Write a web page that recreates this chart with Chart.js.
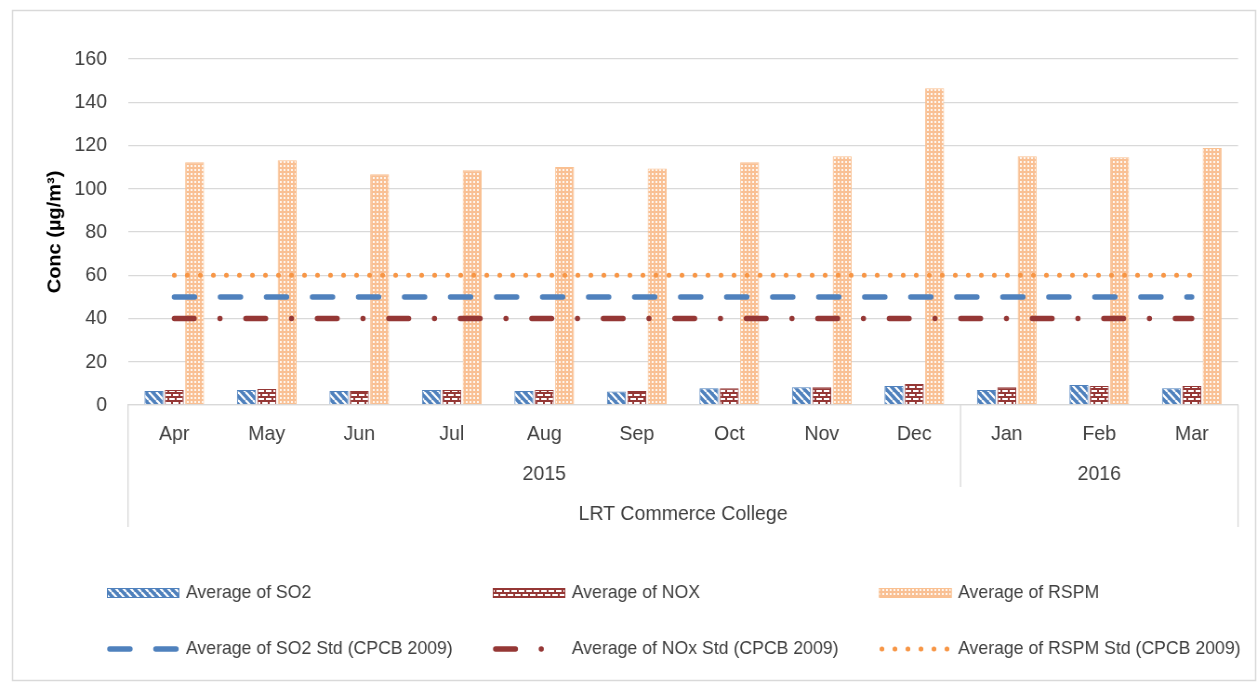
<!DOCTYPE html>
<html><head><meta charset="utf-8">
<script src="https://cdn.jsdelivr.net/npm/chart.js@4.4.1/dist/chart.umd.min.js"></script>
<style>
html,body{margin:0;padding:0;overflow:hidden;background:#fff;width:1257px;height:683px}
#wrap{position:absolute;left:0;top:0;width:1352px;height:683px;transform:scaleX(0.92973);transform-origin:0 0}
canvas{display:block}
</style></head><body>
<div id="wrap"><canvas id="c" width="1352" height="683"></canvas></div>
<script>
// ---------- data ----------
const months = ['Apr','May','Jun','Jul','Aug','Sep','Oct','Nov','Dec','Jan','Feb','Mar'];
const monthYear = ['2015','2015','2015','2015','2015','2015','2015','2015','2015','2016','2016','2016'];
const siteName = 'LRT Commerce College';
const so2  = [6.5, 6.9, 6.5, 6.9, 6.5, 6.3, 7.7, 8.2, 8.8, 6.9, 9.2, 7.7];
const nox  = [6.9, 7.4, 6.5, 6.9, 6.9, 6.5, 7.7, 8.2, 9.7, 8.2, 8.8, 8.8];
const rspm = [112.3, 113.2, 106.7, 108.6, 110.1, 109.4, 112.3, 115.0, 146.5, 115.0, 114.6, 118.8];
const so2Std  = [50, 50, 50, 50, 50, 50, 50, 50, 50, 50, 50, 50];
const noxStd  = [40, 40, 40, 40, 40, 40, 40, 40, 40, 40, 40, 40];
const rspmStd = [60, 60, 60, 60, 60, 60, 60, 60, 60, 60, 60, 60];
const yMin = 0, yMax = 160, yStep = 20;
const yTitle = 'Conc (µg/m³)';
const seriesNames = ['Average of SO2','Average of NOX','Average of RSPM',
  'Average of SO2 Std (CPCB 2009)','Average of NOx Std (CPCB 2009)','Average of RSPM Std (CPCB 2009)'];

// ---------- patterns ----------
function tile(w, h, draw){ const c=document.createElement('canvas'); c.width=w; c.height=h; const g=c.getContext('2d'); draw(g); return document.createElement('canvas').getContext('2d').createPattern(c,'repeat'); }
const BLUE='#4F81BD', RED='#953735', ORANGE='#F79646', PEACH='#FAC090';
const so2Pat = tile(8,8,g=>{ g.fillStyle=BLUE; g.fillRect(0,0,8,8); g.strokeStyle='#fff'; g.lineWidth=2.2;
  for (const x of [-8,0,8]) { g.beginPath(); g.moveTo(x,0); g.lineTo(x+8,8); g.stroke(); } });
const noxPat = tile(8,8,g=>{ g.fillStyle='#fff'; g.fillRect(0,0,8,8); g.fillStyle=RED;
  g.fillRect(0,0,8,2); g.fillRect(0,4,8,2); g.fillRect(0,2,2,2); g.fillRect(4,6,2,2); });
const rspmPat = tile(4,4,g=>{ g.fillStyle='#F9C094'; g.fillRect(0,0,4,4); g.fillStyle='rgba(255,255,255,0.85)'; g.fillRect(1,1,2,2); });

const FONT = '"Liberation Sans", Arial, sans-serif';
const TXT = '#404040';

const multiLevel = {
  id: 'multiLevel',
  beforeDraw(chart){
    const ctx = chart.ctx; ctx.save();
    ctx.fillStyle='#fff'; ctx.fillRect(0,0,chart.width,chart.height);
    ctx.strokeStyle='#d9d9d9'; ctx.lineWidth=1.5;
    ctx.strokeRect(13.5, 10.5, chart.width-15, chart.height-13);
    ctx.restore();
  },
  afterDraw(chart){
    const ctx = chart.ctx, xs = chart.scales.x, y0 = xs.top;
    const n = months.length, w = xs.width / n;
    const groups = [];
    monthYear.forEach((y,i)=>{ const g = groups[groups.length-1];
      if (g && g.label===y) g.end=i; else groups.push({label:y,start:i,end:i}); });
    ctx.save();
    ctx.strokeStyle='#d9d9d9'; ctx.lineWidth=1.3;
    ctx.beginPath();
    ctx.moveTo(xs.left, y0); ctx.lineTo(xs.left, y0+122);
    ctx.moveTo(xs.right, y0); ctx.lineTo(xs.right, y0+122);
    groups.slice(1).forEach(g=>{ const x = xs.getPixelForValue(g.start) - w/2; ctx.moveTo(x,y0); ctx.lineTo(x,y0+82); });
    ctx.stroke();
    ctx.fillStyle=TXT; ctx.font='21px '+FONT; ctx.textAlign='center'; ctx.textBaseline='alphabetic';
    groups.forEach(g=>{ const x=(xs.getPixelForValue(g.start)+xs.getPixelForValue(g.end))/2; ctx.fillText(g.label, x, y0+74.5); });
    ctx.fillText(siteName, (xs.left+xs.right)/2, y0+114.5);
    // legend
    const cols = [115, 530, 945.5], sw = 78, row1 = 593, row2 = 649;
    const ds = chart.data.datasets;
    ctx.font='19px '+FONT; ctx.textAlign='left'; ctx.textBaseline='middle';
    for (let i=0;i<3;i++){
      const d = ds[i], x = cols[i];
      ctx.fillStyle=d.backgroundColor; ctx.fillRect(x, row1-5, sw, 10);
      ctx.strokeStyle=d.borderColor; ctx.lineWidth=1; ctx.strokeRect(x+0.5, row1-4.5, sw-1, 9);
      ctx.fillStyle=TXT; ctx.fillText(d.label, x+sw+7, row1);
    }
    for (let i=0;i<3;i++){
      const d = ds[3+i], x = cols[i];
      ctx.save(); ctx.strokeStyle=d.borderColor; ctx.lineWidth=d.borderWidth; ctx.lineCap='round';
      ctx.setLineDash(d.borderDash); ctx.beginPath(); ctx.moveTo(x+3,row2); ctx.lineTo(x+sw-3,row2); ctx.stroke(); ctx.restore();
      ctx.fillStyle=TXT; ctx.fillText(d.label, x+sw+7, row2);
    }
    ctx.restore();
  }
};

const barCommon = { type:'bar', categoryPercentage:0.66, barPercentage:0.93, borderWidth:1, order:1 };
const lineCommon = { type:'line', pointRadius:0, pointHoverRadius:0, fill:false, borderCapStyle:'round', order:0, tension:0 };

new Chart(document.getElementById('c'), {
  data: {
    labels: months,
    datasets: [
      Object.assign({label:seriesNames[0], data:so2, backgroundColor:so2Pat, borderColor:BLUE}, barCommon),
      Object.assign({label:seriesNames[1], data:nox, backgroundColor:noxPat, borderColor:RED}, barCommon),
      Object.assign({label:seriesNames[2], data:rspm, backgroundColor:rspmPat, borderColor:PEACH}, barCommon),
      Object.assign({label:seriesNames[3], data:so2Std, borderColor:BLUE, borderWidth:5.5, borderDash:[21.9,27.6]}, lineCommon),
      Object.assign({label:seriesNames[4], data:noxStd, borderColor:RED, borderWidth:5.5, borderDash:[21.4,27.7,0.1,27.7]}, lineCommon),
      Object.assign({label:seriesNames[5], data:rspmStd, borderColor:ORANGE, borderWidth:5, borderDash:[0.1,13.9]}, lineCommon)
    ]
  },
  options: {
    responsive:false, animation:false, devicePixelRatio:1,
    layout:{ padding:{ top:59, right:20.4, left:0, bottom:0 } },
    plugins:{ legend:{display:false}, tooltip:{enabled:false}, title:{display:false} },
    scales:{
      x:{ type:'category', offset:true,
        grid:{ display:false, drawTicks:false, tickLength:0 },
        border:{ display:true, color:'#d9d9d9', width:1.3 },
        ticks:{ color:TXT, font:{family:FONT, size:21}, padding:17, maxRotation:0, autoSkip:false },
        afterFit(s){ s.height = 278; } },
      y:{ min:yMin, max:yMax,
        grid:{ color:'#d9d9d9', lineWidth:1.3, drawTicks:false, tickLength:0 },
        border:{ display:false },
        ticks:{ stepSize:yStep, color:TXT, font:{family:FONT, size:21}, padding:22.6 },
        title:{ display:true, text:yTitle, color:'#000', font:{family:FONT, size:20, weight:'bold'}, padding:{top:47.2, bottom:0} },
        afterFit(s){ s.width = 137.7; } }
    }
  },
  plugins:[multiLevel]
});
</script>
</body></html>
